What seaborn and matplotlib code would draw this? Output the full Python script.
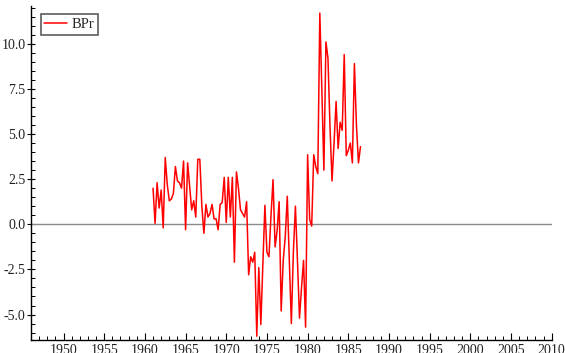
import numpy as np
import pandas as pd
import matplotlib
matplotlib.use("Agg")
import matplotlib.pyplot as plt
import seaborn as sns
from matplotlib.ticker import MultipleLocator

# Quarterly series BPr, 1961Q1 onwards
start_year = 1961.0
bpr = [
    2.0, 0.05, 2.3, 0.9, 1.9, -0.2, 3.7, 2.2, 1.3, 1.4, 1.7, 3.2,
    2.4, 2.3, 2.0, 3.5, -0.3, 3.4, 2.1, 0.8, 1.3, 0.4, 3.6, 3.6,
    1.0, -0.5, 1.1, 0.4, 0.6, 1.1, 0.3, 0.3, -0.3, 1.1, 1.2, 2.6,
    0.1, 2.6, 0.4, 2.6, -2.1, 2.9, 2.0, 0.8, 0.6, 0.4, 1.25,
    -2.8, -1.8, -2.1, -1.55, -6.2, -2.4, -5.55, -2.2, 1.05, -1.55, -1.8,
    0.5, 2.47, -1.25, -0.35, 1.25, -4.8, -2.0, -0.7, 1.55, -2.0, -5.5,
    -1.5, 1.0, -2.0, -5.2, -3.5, -2.0, -5.7,
    3.85, 0.27, -0.1, 3.85, 3.2, 2.8, 11.7, 7.4, 3.0, 10.1, 9.2, 5.4,
    2.4, 4.5, 6.8, 4.2, 5.65, 5.2, 9.4, 3.8, 4.1, 4.5, 3.4, 8.9,
    5.5, 3.4, 4.3,
]
x_ticks = [1950, 1955, 1960, 1965, 1970, 1975, 1980, 1985, 1990, 1995, 2000, 2005, 2010]
y_ticks = [-5.0, -2.5, 0.0, 2.5, 5.0, 7.5, 10.0]

dates = start_year + 0.25 * np.arange(len(bpr))
df = pd.DataFrame({"date": dates, "BPr": bpr})

sns.set_style("ticks")
plt.rcParams["font.family"] = ["Liberation Serif", "DejaVu Serif"]
plt.rcParams["mathtext.fontset"] = "stix"

fig = plt.figure(figsize=(5.65, 3.53), dpi=100)
ax = fig.add_axes([31 / 565, 1 - 340 / 353, (551.7 - 31) / 565, (340 - 6) / 353])

ax.axhline(0.0, color="#8a8a8a", lw=1.0, zorder=1)
sns.lineplot(data=df, x="date", y="BPr", color="#ff0000", lw=1.1, ax=ax,
             label="BPr", zorder=3)

ax.set_xlim(1946, 2010)
ax.set_ylim(-6.41, 12.09)
ax.set_xticks(x_ticks)
ax.set_xticklabels([str(v) for v in x_ticks])
ax.set_yticks(y_ticks)
ax.set_yticklabels([f"{v:.1f}" for v in y_ticks])
ax.xaxis.set_minor_locator(MultipleLocator(1))
ax.yaxis.set_minor_locator(MultipleLocator(0.5))
ax.set_xlabel("")
ax.set_ylabel("")

for side in ("top", "right"):
    ax.spines[side].set_visible(False)
for side in ("left", "bottom"):
    ax.spines[side].set_color("#000000")
    ax.spines[side].set_linewidth(1.0)

ax.tick_params(axis="x", which="major", direction="in", length=5, width=0.8,
               labelsize=10, colors="#000000", pad=3)
ax.tick_params(axis="x", which="minor", direction="in", length=3, width=0.7,
               colors="#000000")
ax.tick_params(axis="y", which="major", direction="inout", length=6, width=0.8,
               labelsize=10, colors="#000000", pad=1)
ax.tick_params(axis="y", which="minor", direction="in", length=3, width=0.7,
               colors="#000000")
for lab in ax.get_xticklabels() + ax.get_yticklabels():
    lab.set_color("#222222")

leg = ax.legend(loc="upper left", bbox_to_anchor=(9.5 / 520.7, 1 - 8 / 334),
                frameon=True, fancybox=False, fontsize=10.5, handlelength=1.6,
                handletextpad=0.3, borderpad=0.25, borderaxespad=0.0)
leg.get_frame().set_edgecolor("#333333")
leg.get_frame().set_linewidth(1.2)

fig.savefig("out.png", dpi=100)
